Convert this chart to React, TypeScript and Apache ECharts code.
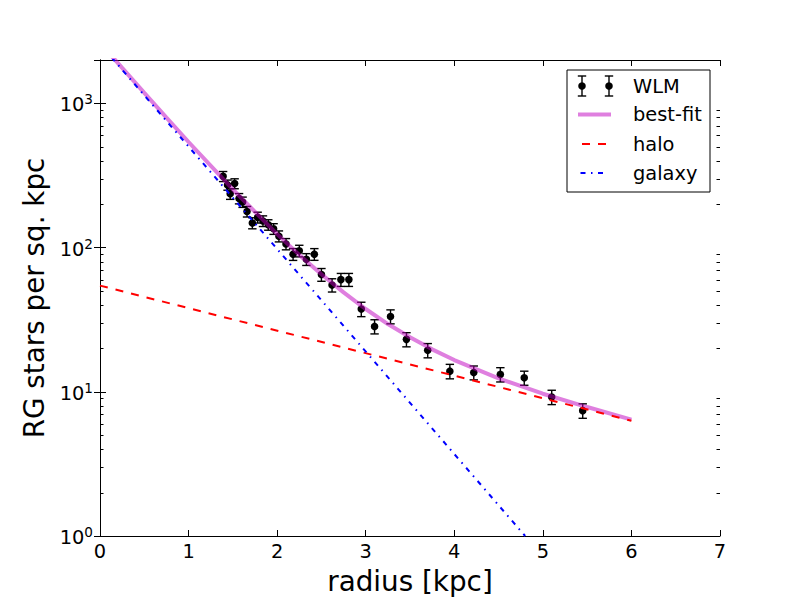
import React, { useEffect, useRef } from "react";
import * as echarts from "echarts";

// ---- data ----
const WLM_R = [1.39, 1.44, 1.47, 1.52, 1.57, 1.61, 1.66, 1.72, 1.78, 1.84, 1.9, 1.96, 2.02, 2.1, 2.18, 2.25, 2.33, 2.42, 2.5, 2.62, 2.72, 2.81, 2.95, 3.1, 3.28, 3.46, 3.7, 3.95, 4.22, 4.52, 4.79, 5.1, 5.45];
const WLM_DENSITY = [312, 272, 236, 278, 219, 207, 178, 148, 162, 153, 144, 135, 120, 106, 90, 95, 83, 90, 65, 55, 60, 60, 37.5, 28.4, 33.3, 23.1, 19.4, 13.9, 13.6, 13.2, 12.5, 9.2, 7.4];
const WLM_ERR = [25, 22, 20, 22, 18, 17, 15, 13, 14, 13, 12, 11.5, 10.5, 9.5, 8.5, 8.8, 7.8, 8.4, 6.6, 5.8, 6.2, 6.2, 4.3, 3.2, 3.7, 2.6, 2.2, 1.6, 1.5, 1.5, 1.4, 1.05, 0.85];

const FIT_R = [0, 0.25, 0.5, 0.75, 1, 1.5, 2, 2.25, 2.5, 2.75, 3, 3.25, 3.5, 3.75, 4, 4.5, 5, 5.5, 6];
const FIT_DENSITY = [2630, 1763, 1183, 798, 540, 253, 124, 89, 65.3, 48.9, 37.5, 29.5, 23.9, 19.7, 16.6, 12.4, 9.7, 7.84, 6.42];

const HALO_R = [0, 6];
const HALO_DENSITY = [54.5, 6.3];

const GALAXY_R = [0, 4.8];
const GALAXY_DENSITY = [2580, 1.0];

const X_TICKS_MIN = 0;
const X_TICKS_MAX = 7;
const Y_MIN = 1;
const Y_MAX = 2000;
const MINOR_TICKS = [2, 3, 4, 5, 6, 7, 8, 9, 20, 30, 40, 50, 60, 70, 80, 90, 200, 300, 400, 500, 600, 700, 800, 900];

const LEGEND_LABELS = ["WLM", "best-fit", "halo", "galaxy"];

const FONT = "DejaVu Sans";
const PINK = "rgba(191,0,191,0.5)";

export default function App() {
  const ref = useRef<HTMLDivElement>(null);

  useEffect(() => {
    if (!ref.current) return;
    const chart = echarts.init(ref.current, undefined, { renderer: "svg" });

    const zip = (a: number[], b: number[]) => a.map((v, i) => [v, b[i]]);

    const legendX = 567, legendY = 70, legendW = 143, legendH = 122;
    const rowY = [86, 114.5, 144, 173];
    const textX = 633;
    const errIcon = (cx: number, cy: number) => [
      { type: "line", shape: { x1: cx, y1: cy - 10, x2: cx, y2: cy + 10 }, style: { stroke: "#000", lineWidth: 1.4 } },
      { type: "line", shape: { x1: cx - 4.2, y1: cy - 10, x2: cx + 4.2, y2: cy - 10 }, style: { stroke: "#000", lineWidth: 1.4 } },
      { type: "line", shape: { x1: cx - 4.2, y1: cy + 10, x2: cx + 4.2, y2: cy + 10 }, style: { stroke: "#000", lineWidth: 1.4 } },
      { type: "circle", shape: { cx, cy, r: 3.8 }, style: { fill: "#000" } },
    ];

    const option: any = {
      animation: false,
      backgroundColor: "#fff",
      grid: { left: 100, right: 80, top: 60, bottom: 60, show: false },
      xAxis: [
        {
          type: "value",
          min: X_TICKS_MIN,
          max: X_TICKS_MAX,
          interval: 1,
          position: "bottom",
          name: "radius [kpc]",
          nameLocation: "middle",
          nameGap: 31,
          nameTextStyle: { fontFamily: FONT, fontSize: 27.8, color: "#000" },
          axisLine: { show: true, onZero: false, lineStyle: { color: "#000", width: 1 } },
          axisTick: { show: true, inside: true, length: 6, lineStyle: { color: "#000", width: 1 } },
          axisLabel: { show: true, margin: 6, fontFamily: FONT, fontSize: 19.4, color: "#000" },
          splitLine: { show: false },
        },
        {
          type: "value",
          min: X_TICKS_MIN,
          max: X_TICKS_MAX,
          interval: 1,
          position: "top",
          axisLine: { show: true, onZero: false, lineStyle: { color: "#000", width: 1 } },
          axisTick: { show: true, inside: true, length: 6, lineStyle: { color: "#000", width: 1 } },
          axisLabel: { show: false },
          splitLine: { show: false },
        },
      ],
      yAxis: [
        {
          type: "log",
          logBase: 10,
          min: Y_MIN,
          max: Y_MAX,
          position: "left",
          name: "RG stars per sq. kpc",
          nameLocation: "middle",
          nameGap: 52,
          nameTextStyle: { fontFamily: FONT, fontSize: 27.8, color: "#000" },
          axisLine: { show: true, lineStyle: { color: "#000", width: 1 } },
          axisTick: { show: true, inside: true, length: 6, lineStyle: { color: "#000", width: 1 } },
          axisLabel: {
            show: true,
            margin: 7,
            showMaxLabel: false,
            formatter: (v: number) => {
              const e = Math.log10(v);
              const r = Math.round(e);
              if (Math.abs(e - r) > 1e-6) return "";
              return `{b|10}{s|${r}}`;
            },
            rich: {
              b: { fontFamily: FONT, fontSize: 19.4, color: "#000", verticalAlign: "bottom", lineHeight: 22 },
              s: { fontFamily: FONT, fontSize: 13.6, color: "#000", verticalAlign: "top" },
            },
          },
          splitLine: { show: false },
        },
        {
          type: "log",
          logBase: 10,
          min: Y_MIN,
          max: Y_MAX,
          position: "right",
          axisLine: { show: true, lineStyle: { color: "#000", width: 1 } },
          axisTick: { show: true, inside: true, length: 6, lineStyle: { color: "#000", width: 1 } },
          axisLabel: { show: false },
          splitLine: { show: false },
        },
      ],
      series: [
        {
          name: "minor ticks",
          type: "custom",
          silent: true,
          xAxisIndex: 0,
          yAxisIndex: 0,
          data: MINOR_TICKS.map((v) => [X_TICKS_MIN, v]),
          encode: { x: 0, y: 1 },
          renderItem: (params: any, api: any) => {
            const v = api.value(1);
            const p = api.coord([X_TICKS_MIN, v]);
            const q = api.coord([X_TICKS_MAX, v]);
            const y = Math.round(p[1]) + 0.5;
            return {
              type: "group",
              children: [
                { type: "line", shape: { x1: p[0], y1: y, x2: p[0] + 3.5, y2: y }, style: { stroke: "#000", lineWidth: 1 } },
                { type: "line", shape: { x1: q[0] - 3.5, y1: y, x2: q[0], y2: y }, style: { stroke: "#000", lineWidth: 1 } },
              ],
            };
          },
          z: 10,
        },
        {
          name: "WLM",
          type: "custom",
          xAxisIndex: 0,
          yAxisIndex: 0,
          data: WLM_R.map((r, i) => [r, WLM_DENSITY[i], WLM_ERR[i]]),
          encode: { x: 0, y: 1 },
          renderItem: (params: any, api: any) => {
            const x = api.value(0);
            const y = api.value(1);
            const e = api.value(2);
            const c = api.coord([x, y]);
            const t = api.coord([x, y + e]);
            const b = api.coord([x, y - e]);
            const st = { stroke: "#000", lineWidth: 1.4 };
            return {
              type: "group",
              children: [
                { type: "line", shape: { x1: c[0], y1: t[1], x2: c[0], y2: b[1] }, style: st },
                { type: "line", shape: { x1: c[0] - 4.2, y1: t[1], x2: c[0] + 4.2, y2: t[1] }, style: st },
                { type: "line", shape: { x1: c[0] - 4.2, y1: b[1], x2: c[0] + 4.2, y2: b[1] }, style: st },
                { type: "circle", shape: { cx: c[0], cy: c[1], r: 3.8 }, style: { fill: "#000" } },
              ],
            };
          },
          z: 2,
        },
        {
          name: "best-fit",
          type: "line",
          data: zip(FIT_R, FIT_DENSITY),
          showSymbol: false,
          symbol: "none",
          smooth: false,
          clip: true,
          lineStyle: { color: PINK, width: 4 },
          z: 3,
        },
        {
          name: "halo",
          type: "line",
          data: zip(HALO_R, HALO_DENSITY),
          showSymbol: false,
          symbol: "none",
          clip: true,
          lineStyle: { color: "#ff0000", width: 2, type: [8, 8] },
          z: 4,
        },
        {
          name: "galaxy",
          type: "line",
          data: zip(GALAXY_R, GALAXY_DENSITY),
          showSymbol: false,
          symbol: "none",
          clip: true,
          lineStyle: { color: "#0000ff", width: 2, type: [5, 5.5, 1.5, 5.5] },
          z: 5,
        },
      ],
      graphic: [
        {
          type: "group",
          z: 100,
          children: [
            {
              type: "rect",
              shape: { x: legendX, y: legendY, width: legendW, height: legendH },
              style: { fill: "#fff", stroke: "#000", lineWidth: 1 },
            },
            ...errIcon(582, rowY[0]),
            ...errIcon(609, rowY[0]),
            { type: "line", shape: { x1: 578, y1: rowY[1], x2: 611, y2: rowY[1] }, style: { stroke: PINK, lineWidth: 4 } },
            { type: "line", shape: { x1: 582, y1: rowY[2], x2: 607, y2: rowY[2] }, style: { stroke: "#ff0000", lineWidth: 2, lineDash: [8, 8] } },
            { type: "line", shape: { x1: 580.5, y1: rowY[3], x2: 606, y2: rowY[3] }, style: { stroke: "#0000ff", lineWidth: 2, lineDash: [5, 5.5, 1.5, 5.5] } },
            ...LEGEND_LABELS.map((label, i) => ({
              type: "text",
              x: textX,
              y: rowY[i],
              style: { text: label, fontFamily: FONT, fontSize: 19.4, fill: "#000", verticalAlign: "middle", align: "left" },
            })),
          ],
        },
      ],
    };

    chart.setOption(option);
    return () => chart.dispose();
  }, []);

  return (
    <div
      ref={ref}
      style={{ position: "fixed", left: 0, top: 0, width: 800, height: 600, background: "#fff" }}
    />
  );
}
